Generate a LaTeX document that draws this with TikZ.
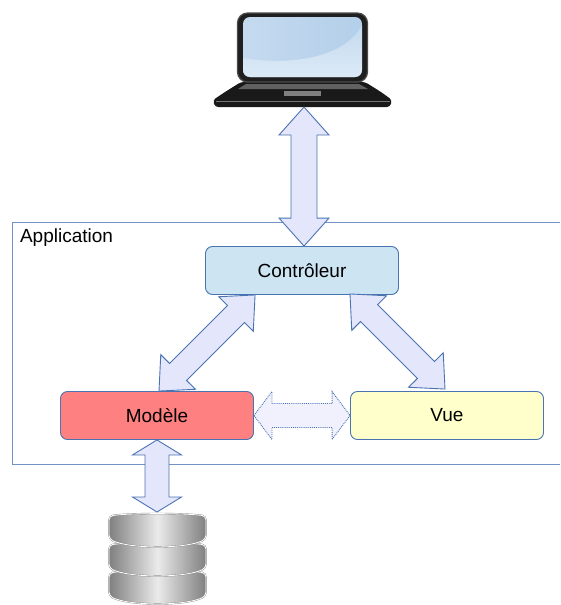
\documentclass[tikz,border=0pt]{standalone}
\usepackage{xcolor}
\usepackage{fontspec}
\setmainfont{Liberation Sans}
\usetikzlibrary{arrows.meta,positioning,calc}
\definecolor{arrowblue}{HTML}{4A73B2}
\definecolor{arrowfill}{HTML}{E4E6FB}
\definecolor{dotfill}{HTML}{F0F1FD}
\definecolor{framecol}{HTML}{7391C2}
\definecolor{screenpale}{HTML}{DCEAF6}
\definecolor{screenmid}{HTML}{C4DAEF}
\definecolor{screendark}{HTML}{B4CFEA}
\tikzset{
  compbox/.style={draw=arrowblue,line width=0.9,rounded corners=7,minimum width=193,minimum height=48,inner sep=0,font=\fontsize{19}{21}\selectfont},
  bigarrow/.style={draw=arrowblue,fill=arrowfill,line width=0.9,line join=miter},
  dotarrow/.style={draw=arrowblue,fill=dotfill,line width=0.9,densely dotted},
}
% #1 style, #2 and #3 tips, #4 head length, #5 head half width, #6 shaft half width
\newcommand{\dblarrow}[6]{
  \draw[#1] (#2)
    -- ($(#2)!#4pt!(#3)!#5pt!90:(#3)$) -- ($(#2)!#4pt!(#3)!#6pt!90:(#3)$)
    -- ($(#3)!#4pt!(#2)!#6pt!-90:(#2)$) -- ($(#3)!#4pt!(#2)!#5pt!-90:(#2)$)
    -- (#3)
    -- ($(#3)!#4pt!(#2)!#5pt!90:(#2)$) -- ($(#3)!#4pt!(#2)!#6pt!90:(#2)$)
    -- ($(#2)!#4pt!(#3)!#6pt!-90:(#3)$) -- ($(#2)!#4pt!(#3)!#5pt!-90:(#3)$)
    -- cycle;
}
\begin{document}
\begin{tikzpicture}[x=1pt,y=-1pt]
  \useasboundingbox (0,0) rectangle (560,605);
  % Application frame
  \draw[framecol,line width=0.9] (560,222.5)--(12,222.5)--(12,464)--(560,464);
  \node[anchor=west,font=\fontsize{19}{21}\selectfont] (apptitle) at (16.5,237.5) {Application};
  % Components
  \node[compbox,fill={rgb,255:red,205;green,228;blue,243}] (ctrl) at (302,270.5) {Contrôleur};
  \node[compbox,fill={rgb,255:red,255;green,128;blue,128}] (model) at (157,415.5) {Modèle};
  \node[compbox,fill={rgb,255:red,255;green,255;blue,204}] (view) at (447,415.5) {Vue};
  % Laptop
  \fill[black!90,rounded corners=3] (225,92) -- (241,82) -- (365,82) -- (381,92) -- (392,100) -- (390,107) -- (215,107) -- (213,100) -- cycle;
  \fill[black!62] (246,84) -- (359,84) -- (368,89) -- (238,89) -- cycle;
  \fill[black!50] (284,91) rectangle (321,96);
  \draw[black!55,line width=0.6] (216,101) -- (390,101);
  \draw[black!70,fill=black!88,line width=1.2,rounded corners=10] (237.5,13) rectangle (367.5,82);
  \begin{scope}
    \clip[rounded corners=7] (243,17) rectangle (362,77);
    \shade[left color=screenmid,right color=screendark] (243,17) rectangle (362,77);
    \shade[top color=screenmid,bottom color=screenpale] (243,58) .. controls (290,66) and (345,58) .. (362,25) -- (362,77) -- (243,77) -- cycle;
  \end{scope}
  \coordinate (laptop) at (304,107);
  % Database
  \begin{scope}
    \clip (0,500) rectangle (560,605);
    \foreach \ytop in {570,542,513}{
      \shade[left color=black!50,right color=black!50,middle color=black!8,draw=black!45,double=white,double distance=0.8,line width=0.4,rounded corners=4]
        (109,\ytop+3) .. controls (130,\ytop) and (185,\ytop) .. (206,\ytop+3) -- (206,\ytop+26)
        .. controls (185,\ytop+36) and (130,\ytop+36) .. (109,\ytop+26) -- cycle;
    }
  \end{scope}
  \coordinate (dbase) at (157,512);
  % Links
  \coordinate (ctrlleft) at ($(ctrl.south west)+(50,0)$);
  \coordinate (ctrlright) at ($(ctrl.south)+(48,-1)$);
  \coordinate (modeltop) at ($(model.north)+(2,0)$);
  \coordinate (viewtop) at ($(view.north)+(-2,-2)$);
  \coordinate (ctrltop) at ($(ctrl.north)+(2,0)$);
  \dblarrow{bigarrow}{laptop}{ctrltop}{28}{25}{13}
  \dblarrow{bigarrow}{ctrlleft}{modeltop}{27}{24.5}{12}
  \dblarrow{bigarrow}{ctrlright}{viewtop}{27}{24.5}{12}
  \dblarrow{bigarrow}{model.south}{dbase}{15}{24.5}{12}
  \dblarrow{dotarrow}{model.east}{view.west}{18}{24}{12}
\end{tikzpicture}
\end{document}
